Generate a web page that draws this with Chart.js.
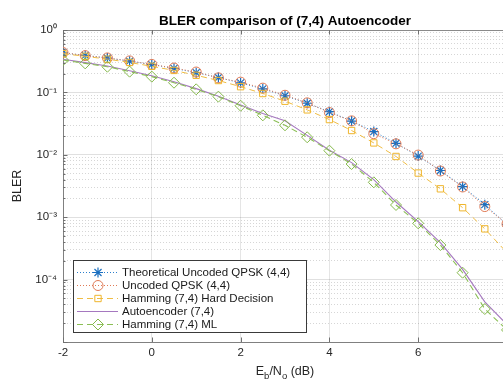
<!DOCTYPE html>
<html><head><meta charset="utf-8">
<script src="https://cdn.jsdelivr.net/npm/chart.js@4.4.0/dist/chart.umd.min.js"></script>
<style>
html,body{margin:0;padding:0;background:#fff;overflow:hidden;width:503px;height:381px;}
#wrap{width:530px;height:381px;position:relative;}
canvas{display:block;}
</style></head><body>
<div id="wrap"><canvas id="c" width="530" height="381"></canvas></div>
<script>
// ---- data ----
const ebn0 = [-2,-1.5,-1,-0.5,0,0.5,1,1.5,2,2.5,3,3.5,4,4.5,5,5.5,6,6.5,7,7.5,8];
const theoUncoded = [0.429,0.392,0.355,0.317,0.279,0.243,0.207,0.173,0.142,0.114,0.0884,0.0670,0.0491,0.0347,0.0236,0.0153,0.00953,0.0056,0.0031,0.00159,0.00076];
const simUncoded  = [0.436,0.389,0.357,0.320,0.281,0.246,0.212,0.171,0.146,0.117,0.090,0.068,0.0475,0.0350,0.0218,0.0150,0.0099,0.0055,0.00305,0.00148,0.00078];
const hammingHard = [0.417,0.379,0.341,0.302,0.262,0.225,0.188,0.155,0.1235,0.096,0.0722,0.0525,0.0367,0.0245,0.0155,0.0094,0.0051,0.00285,0.00142,0.00065,0.00027];
const autoencoder = [0.34,0.30,0.265,0.222,0.185,0.148,0.115,0.087,0.063,0.046,0.035,0.0205,0.0118,0.0075,0.0040,0.00175,0.00085,0.00039,0.000146,0.000044,0.000019];
const hammingML   = [0.33,0.292,0.258,0.215,0.179,0.143,0.112,0.0855,0.0612,0.0429,0.0297,0.0191,0.01165,0.00712,0.00362,0.00157,0.000798,0.000358,0.000129,0.0000338,0.0000156];
const seriesNames = ['Theoretical Uncoded QPSK (4,4)','Uncoded QPSK (4,4)','Hamming (7,4) Hard Decision','Autoencoder (7,4)','Hamming (7,4) ML'];
const xTicks = [-2,0,2,4,6,8];
const yMajorTicks = [1e-5,1e-4,1e-3,1e-2,1e-1,1];
const yTickLabels = ['','10\u207B\u2074','10\u207B\u00B3','10\u207B\u00B2','10\u207B\u00B9','10\u2070'];
const chartTitle = 'BLER comparison of (7,4) Autoencoder';
const yTitle = 'BLER';

const FONT = '"Liberation Sans", Arial, Helvetica, sans-serif';
Chart.defaults.font.family = FONT;

function pts(arr){ return ebn0.map((x,i)=>({x:x,y:arr[i]})); }
function isMajor(v){ return yMajorTicks.some(m => Math.abs(Math.log10(v) - Math.log10(m)) < 1e-6); }

const datasets = [
  {label:seriesNames[0], data:pts(theoUncoded), borderColor:'#2b7fcc', borderWidth:1, borderDash:[1,2],
   pointStyle:'star', pointRadius:5, pointBorderColor:'#1a6fc0', pointBorderWidth:1.2, backgroundColor:'transparent'},
  {label:seriesNames[1], data:pts(simUncoded), borderColor:'#e07a55', borderWidth:1, borderDash:[1,2],
   pointStyle:'circle', pointRadius:5, pointBorderColor:'#e07a55', pointBorderWidth:1, backgroundColor:'transparent', pointBackgroundColor:'transparent'},
  {label:seriesNames[2], data:pts(hammingHard), borderColor:'#efbd45', borderWidth:1, borderDash:[6,4],
   pointStyle:'rect', pointRadius:4.5, pointBorderColor:'#efb62e', pointBorderWidth:1, backgroundColor:'transparent', pointBackgroundColor:'transparent'},
  {label:seriesNames[3], data:pts(autoencoder), borderColor:'#a578bf', borderWidth:1.1,
   pointRadius:0, backgroundColor:'transparent'},
  {label:seriesNames[4], data:pts(hammingML), borderColor:'#8bbf55', borderWidth:1.1, borderDash:[6,4],
   pointStyle:'rectRot', pointRadius:5.5, pointBorderColor:'#84b84a', pointBorderWidth:1, backgroundColor:'transparent', pointBackgroundColor:'transparent'}
];
datasets.forEach((d,i)=>{ d.order = 5-i; d.tension = 0; });

const decor = {
  id:'decor',
  afterDraw(chart){
    const ctx = chart.ctx, ca = chart.chartArea;
    const xs = chart.scales.x, ys = chart.scales.y;
    ctx.save();
    ctx.strokeStyle = '#8a8a8a'; ctx.lineWidth = 1;
    ctx.beginPath();
    ctx.moveTo(ca.left, ca.top+0.5); ctx.lineTo(ca.right, ca.top+0.5);
    ctx.moveTo(ca.right-0.5, ca.top); ctx.lineTo(ca.right-0.5, ca.bottom);
    ctx.stroke();
    ctx.strokeStyle = '#707070';
    ctx.beginPath();
    ys.ticks.forEach(t=>{
      const y = Math.round(ys.getPixelForValue(t.value))+0.5;
      const len = isMajor(t.value) ? 4.5 : 2.5;
      ctx.moveTo(ca.left, y); ctx.lineTo(ca.left+len, y);
    });
    xs.ticks.forEach(t=>{
      const x = Math.round(xs.getPixelForValue(t.value))+0.5;
      ctx.moveTo(x, ca.bottom); ctx.lineTo(x, ca.bottom-4.5);
      ctx.moveTo(x, ca.top); ctx.lineTo(x, ca.top+4.5);
    });
    ctx.stroke();
    const cx = (ca.left+ca.right)/2;
    ctx.fillStyle = '#000';
    ctx.font = 'bold 13.5px ' + FONT;
    ctx.textAlign = 'center'; ctx.textBaseline = 'alphabetic';
    ctx.fillText(chartTitle, cx, 25);
    const big = '12.5px ' + FONT, small = '9.5px ' + FONT;
    const parts = [['E',big,0],['b',small,4],['/N',big,0],['o',small,4],[' (dB)',big,0]];
    let w = 0;
    parts.forEach(p=>{ ctx.font = p[1]; w += ctx.measureText(p[0]).width; });
    let x = cx - w/2;
    ctx.textAlign = 'left'; ctx.fillStyle = '#262626';
    parts.forEach(p=>{ ctx.font = p[1]; ctx.fillText(p[0], x, 375 + p[2]); x += ctx.measureText(p[0]).width; });
    const L = {x:73.5, y:260.5, w:233, h:72};
    ctx.fillStyle = '#fff'; ctx.fillRect(L.x, L.y, L.w, L.h);
    ctx.strokeStyle = '#3a3a3a'; ctx.lineWidth = 1; ctx.setLineDash([]);
    ctx.strokeRect(L.x, L.y, L.w, L.h);
    const rows = [272.5, 285.5, 298.5, 311.5, 324.5];
    datasets.forEach((d,i)=>{
      const y = rows[i];
      ctx.save();
      ctx.strokeStyle = d.borderColor; ctx.lineWidth = d.borderWidth;
      ctx.setLineDash(d.borderDash || []);
      ctx.beginPath(); ctx.moveTo(77, y); ctx.lineTo(118, y); ctx.stroke();
      ctx.setLineDash([]);
      if (d.pointRadius > 0) {
        ctx.strokeStyle = d.pointBorderColor; ctx.fillStyle = 'transparent';
        ctx.lineWidth = d.pointBorderWidth;
        Chart.helpers.drawPoint(ctx, {pointStyle:d.pointStyle, radius:d.pointRadius, rotation:0, borderWidth:d.pointBorderWidth}, 98, y);
      }
      ctx.restore();
      ctx.fillStyle = '#1a1a1a'; ctx.font = '11.5px ' + FONT;
      ctx.textAlign = 'left'; ctx.textBaseline = 'middle';
      ctx.fillText(d.label, 122, y+0.5);
    });
    ctx.restore();
  }
};

new Chart(document.getElementById('c'), {
  type:'line',
  data:{ datasets: datasets },
  options:{
    responsive:false, animation:false,
    layout:{ padding:{ top:30, right:23, bottom:0, left:0 } },
    plugins:{ legend:{display:false}, tooltip:{enabled:false}, title:{display:false} },
    scales:{
      x:{ type:'linear', min:-2, max:8,
          afterBuildTicks: s => { s.ticks = xTicks.map(v=>({value:v})); },
          afterFit: s => { s.height = 39; },
          ticks:{ color:'#262626', font:{size:11.5}, padding:4, maxRotation:0, autoSkip:false },
          grid:{ color:'rgba(0,0,0,0.10)', lineWidth:1, drawTicks:false },
          border:{ display:true, color:'#808080', width:1 } },
      y:{ type:'logarithmic', min:1e-5, max:1,
          afterBuildTicks: s => {
            const t = [];
            yMajorTicks.forEach((m,i)=>{ t.push({value:m}); if (i < yMajorTicks.length-1) for (let k=2;k<=9;k++) t.push({value:m*k}); });
            s.ticks = t;
          },
          afterFit: s => { s.width = 63; },
          ticks:{ color:'#262626', font:{size:11.5}, padding:6, autoSkip:false,
                  callback: (v) => { const i = yMajorTicks.findIndex(m => Math.abs(Math.log10(v)-Math.log10(m))<1e-6); return i>=0 ? yTickLabels[i] : ''; } },
          grid:{ drawTicks:false, lineWidth:1,
                 color: c => (c.tick && isMajor(c.tick.value)) ? 'rgba(0,0,0,0.12)' : 'rgba(0,0,0,0.16)' },
          border:{ display:true, color:'#808080', width:1,
                   dash: c => (c.tick && !isMajor(c.tick.value)) ? [1,2] : [] },
          title:{ display:true, text:yTitle, color:'#262626', font:{size:12.5}, padding:{top:10,bottom:0} } }
    }
  },
  plugins:[decor]
});
</script>
</body></html>
